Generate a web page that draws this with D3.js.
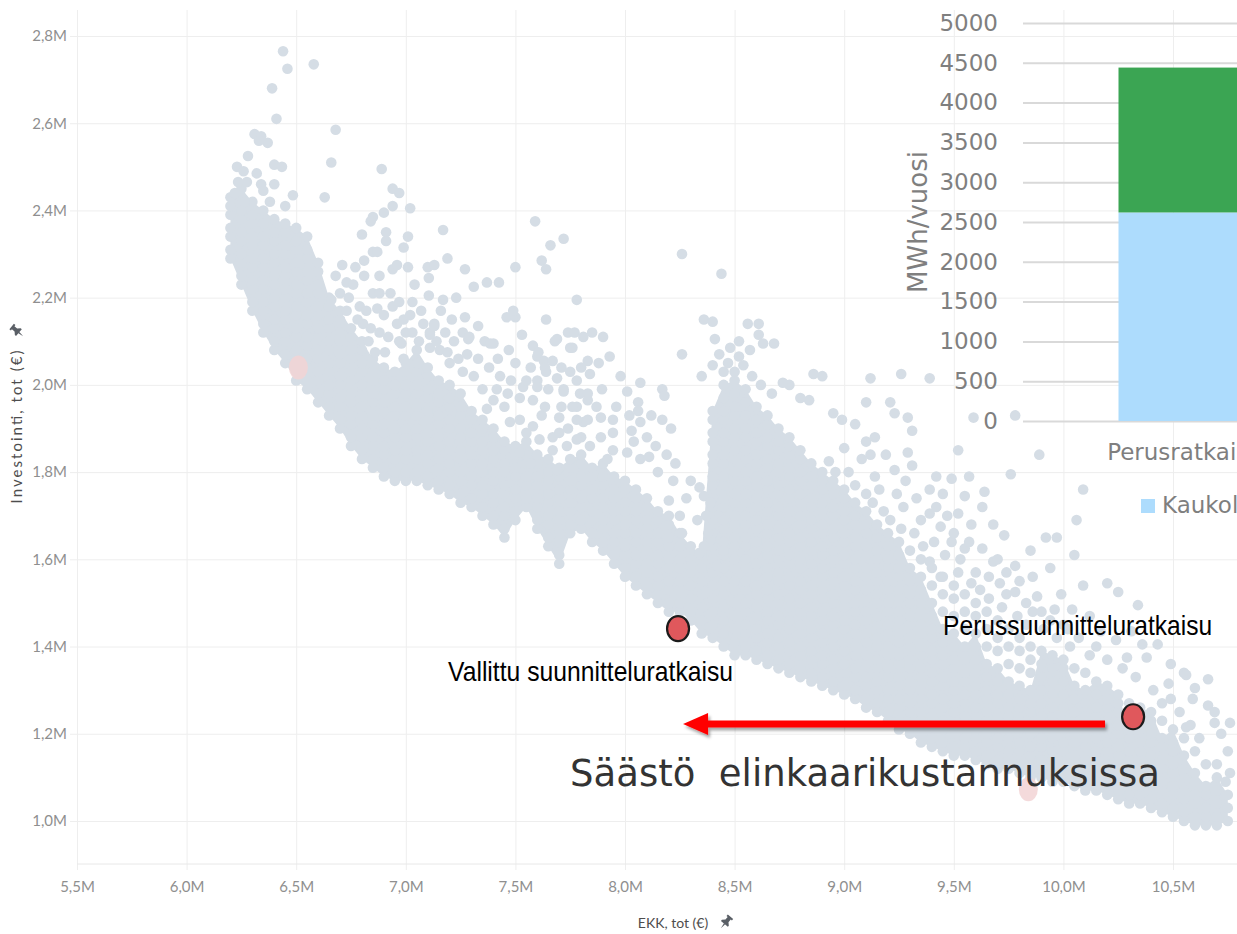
<!DOCTYPE html>
<html>
<head>
<meta charset="utf-8">
<script src="https://cdn.jsdelivr.net/npm/d3@7"></script>
<style>
body { margin: 0; background: #fff; }
svg { display: block; }
</style>
</head>
<body>
<div class="svg-container"></div>
<script>
// ticks (M€)
var ekkTicks = [5.5, 6.0, 6.5, 7.0, 7.5, 8.0, 8.5, 9.0, 9.5, 10.0, 10.5];
var invTicks = [1.0, 1.2, 1.4, 1.6, 1.8, 2.0, 2.2, 2.4, 2.6, 2.8];

// dense part of the cloud, read column by column: [EKK, [Investointi, ...]]
var cloudColumns = [
  [6.20,[2.29,2.31,2.34,2.36,2.39,2.41,2.43]],
  [6.25,[2.23,2.25,2.28,2.30,2.33,2.35,2.38,2.40,2.43,2.45]],
  [6.30,[2.17,2.19,2.22,2.24,2.27,2.29,2.32,2.34,2.37,2.39,2.42]],
  [6.35,[2.12,2.14,2.17,2.19,2.22,2.24,2.27,2.29,2.32,2.34,2.37,2.40]],
  [6.40,[2.08,2.10,2.13,2.15,2.18,2.20,2.23,2.25,2.28,2.30,2.33,2.35,2.38]],
  [6.45,[2.05,2.07,2.10,2.12,2.15,2.17,2.20,2.22,2.25,2.27,2.30,2.32,2.35,2.37]],
  [6.50,[2.01,2.03,2.06,2.08,2.11,2.13,2.16,2.18,2.21,2.23,2.26,2.28,2.31,2.33,2.36]],
  [6.55,[1.99,2.01,2.04,2.06,2.09,2.11,2.14,2.16,2.19,2.21,2.24,2.26,2.29,2.31,2.34]],
  [6.60,[1.96,1.98,2.01,2.03,2.06,2.08,2.11,2.13,2.16,2.18,2.21,2.23,2.26,2.28]],
  [6.65,[1.93,1.95,1.98,2.00,2.03,2.05,2.08,2.10,2.13,2.15,2.18,2.20]],
  [6.70,[1.90,1.92,1.95,1.97,2.00,2.02,2.05,2.07,2.10,2.12,2.15,2.17]],
  [6.75,[1.86,1.88,1.91,1.93,1.96,1.98,2.01,2.03,2.06,2.08,2.11,2.13]],
  [6.80,[1.83,1.85,1.88,1.90,1.93,1.95,1.98,2.00,2.03,2.05,2.08,2.10]],
  [6.85,[1.81,1.83,1.86,1.88,1.91,1.93,1.96,1.98,2.01,2.03,2.06]],
  [6.90,[1.79,1.81,1.84,1.86,1.89,1.91,1.94,1.96,1.99,2.01,2.04]],
  [6.95,[1.78,1.80,1.83,1.85,1.88,1.90,1.93,1.95,1.98,2.00,2.03]],
  [7.00,[1.78,1.80,1.83,1.85,1.88,1.90,1.93,1.95,1.98,2.00,2.03,2.05]],
  [7.05,[1.78,1.80,1.83,1.85,1.88,1.90,1.93,1.95,1.98,2.00,2.03,2.05,2.08]],
  [7.10,[1.77,1.79,1.82,1.84,1.87,1.89,1.92,1.94,1.97,1.99,2.02,2.04]],
  [7.15,[1.76,1.78,1.81,1.83,1.86,1.88,1.91,1.93,1.96,1.98,2.01]],
  [7.20,[1.75,1.77,1.80,1.82,1.85,1.87,1.90,1.92,1.95,1.97,2.00]],
  [7.25,[1.73,1.75,1.78,1.80,1.83,1.85,1.88,1.90,1.93,1.95,1.98]],
  [7.30,[1.72,1.74,1.77,1.79,1.82,1.84,1.87,1.89,1.92,1.94]],
  [7.35,[1.70,1.72,1.75,1.77,1.80,1.82,1.85,1.87,1.90,1.92]],
  [7.40,[1.68,1.70,1.73,1.75,1.78,1.80,1.83,1.85,1.88,1.90]],
  [7.45,[1.65,1.67,1.70,1.72,1.75,1.77,1.80,1.82,1.85,1.87]],
  [7.50,[1.69,1.71,1.74,1.76,1.79,1.81,1.84,1.86]],
  [7.55,[1.72,1.74,1.77,1.79,1.82,1.84,1.87]],
  [7.60,[1.67,1.69,1.72,1.74,1.77,1.79,1.82,1.84]],
  [7.65,[1.63,1.65,1.68,1.70,1.73,1.75,1.78,1.80,1.83]],
  [7.70,[1.59,1.61,1.64,1.66,1.69,1.71,1.74,1.76,1.79,1.81]],
  [7.75,[1.66,1.68,1.71,1.73,1.76,1.78,1.81,1.83]],
  [7.80,[1.67,1.69,1.72,1.74,1.77,1.79,1.82,1.84]],
  [7.85,[1.64,1.66,1.69,1.71,1.74,1.76,1.79,1.81]],
  [7.90,[1.62,1.64,1.67,1.69,1.72,1.74,1.77,1.79,1.82]],
  [7.95,[1.59,1.61,1.64,1.66,1.69,1.71,1.74,1.76,1.79]],
  [8.00,[1.56,1.58,1.61,1.63,1.66,1.68,1.71,1.73,1.76,1.78]],
  [8.05,[1.54,1.56,1.59,1.61,1.64,1.66,1.69,1.71,1.74,1.76]],
  [8.10,[1.52,1.54,1.57,1.59,1.62,1.64,1.67,1.69,1.72,1.74]],
  [8.15,[1.50,1.52,1.54,1.56,1.59,1.61,1.64,1.66,1.69,1.71]],
  [8.20,[1.48,1.50,1.53,1.55,1.58,1.60,1.63,1.65,1.68,1.70]],
  [8.25,[1.48,1.50,1.53,1.55,1.58,1.60,1.63,1.66]],
  [8.30,[1.46,1.48,1.51,1.54,1.57,1.60,1.63]],
  [8.35,[1.43,1.46,1.49,1.52,1.55,1.58,1.61]],
  [8.40,[1.42,1.45,1.48,1.51,1.54,1.57,1.60,1.63,1.66,1.69,1.72,1.74,1.77,1.79,1.82,1.84,1.87,1.89,1.92,1.94]],
  [8.45,[1.40,1.43,1.46,1.49,1.52,1.55,1.58,1.61,1.64,1.67,1.69,1.72,1.74,1.77,1.79,1.82,1.84,1.87,1.89,1.92,1.94,1.97,2.00]],
  [8.50,[1.38,1.41,1.44,1.47,1.50,1.53,1.55,1.58,1.60,1.63,1.65,1.68,1.70,1.73,1.75,1.78,1.80,1.83,1.85,1.88,1.90,1.93,1.95,1.98,2.01]],
  [8.55,[1.38,1.40,1.43,1.45,1.48,1.50,1.53,1.55,1.58,1.60,1.63,1.65,1.68,1.70,1.73,1.75,1.78,1.80,1.83,1.85,1.88,1.90,1.93,1.96,1.99]],
  [8.60,[1.37,1.39,1.42,1.44,1.47,1.49,1.52,1.54,1.57,1.59,1.62,1.64,1.67,1.69,1.72,1.74,1.77,1.79,1.82,1.84,1.87,1.89,1.92,1.95]],
  [8.65,[1.36,1.38,1.41,1.43,1.46,1.48,1.51,1.53,1.56,1.58,1.61,1.63,1.66,1.68,1.71,1.73,1.76,1.78,1.81,1.83,1.86,1.88,1.91,1.93]],
  [8.70,[1.35,1.37,1.40,1.42,1.45,1.47,1.50,1.52,1.55,1.57,1.60,1.62,1.65,1.67,1.70,1.72,1.75,1.77,1.80,1.82,1.85,1.87,1.90]],
  [8.75,[1.34,1.36,1.39,1.41,1.44,1.46,1.49,1.51,1.54,1.56,1.59,1.61,1.64,1.66,1.69,1.71,1.74,1.76,1.79,1.81,1.84,1.86,1.88]],
  [8.80,[1.33,1.35,1.38,1.40,1.43,1.45,1.48,1.50,1.53,1.55,1.58,1.60,1.63,1.65,1.68,1.70,1.73,1.75,1.78,1.80,1.83,1.85]],
  [8.85,[1.32,1.34,1.37,1.39,1.42,1.44,1.47,1.49,1.52,1.54,1.57,1.59,1.62,1.64,1.67,1.69,1.72,1.74,1.77,1.79,1.82]],
  [8.90,[1.31,1.33,1.36,1.38,1.41,1.43,1.46,1.48,1.51,1.53,1.56,1.58,1.61,1.63,1.66,1.68,1.71,1.73,1.76,1.78,1.80]],
  [8.95,[1.30,1.32,1.35,1.37,1.40,1.42,1.45,1.47,1.50,1.52,1.55,1.57,1.60,1.62,1.65,1.67,1.70,1.72,1.75,1.78]],
  [9.00,[1.29,1.31,1.34,1.36,1.39,1.41,1.44,1.46,1.49,1.51,1.54,1.56,1.59,1.61,1.64,1.66,1.69,1.71,1.74,1.76]],
  [9.05,[1.28,1.30,1.33,1.35,1.38,1.40,1.43,1.45,1.48,1.50,1.53,1.55,1.58,1.60,1.63,1.65,1.68,1.70,1.73]],
  [9.10,[1.26,1.28,1.31,1.33,1.36,1.38,1.41,1.43,1.46,1.48,1.51,1.53,1.56,1.58,1.61,1.63,1.66,1.68,1.71]],
  [9.15,[1.25,1.27,1.30,1.32,1.35,1.37,1.40,1.42,1.45,1.47,1.50,1.52,1.55,1.57,1.60,1.62,1.65,1.68]],
  [9.20,[1.23,1.25,1.28,1.30,1.33,1.35,1.38,1.40,1.43,1.45,1.48,1.50,1.53,1.55,1.58,1.60,1.63,1.66]],
  [9.25,[1.21,1.23,1.26,1.28,1.31,1.33,1.36,1.38,1.41,1.43,1.46,1.48,1.51,1.53,1.56,1.58,1.61,1.64]],
  [9.30,[1.20,1.22,1.25,1.27,1.30,1.32,1.35,1.37,1.40,1.42,1.45,1.47,1.50,1.52,1.55,1.58,1.62]],
  [9.35,[1.18,1.20,1.23,1.25,1.28,1.30,1.33,1.35,1.38,1.40,1.43,1.45,1.48,1.50,1.53,1.56,1.60]],
  [9.40,[1.17,1.19,1.22,1.24,1.27,1.29,1.32,1.34,1.37,1.39,1.42,1.44,1.47,1.50,1.54,1.58]],
  [9.45,[1.16,1.18,1.21,1.23,1.26,1.28,1.31,1.33,1.36,1.38,1.41,1.44,1.48,1.52,1.56]],
  [9.50,[1.15,1.17,1.20,1.22,1.25,1.27,1.30,1.32,1.35,1.37,1.40,1.43,1.47,1.51,1.54]],
  [9.55,[1.15,1.17,1.19,1.22,1.24,1.27,1.29,1.32,1.34,1.37,1.40,1.44,1.48,1.52]],
  [9.60,[1.14,1.16,1.19,1.21,1.24,1.26,1.29,1.31,1.34,1.37,1.40,1.43,1.47,1.50]],
  [9.65,[1.13,1.15,1.18,1.20,1.23,1.25,1.28,1.30,1.33,1.36,1.40,1.44,1.48]],
  [9.70,[1.12,1.14,1.17,1.19,1.22,1.24,1.27,1.29,1.32,1.35,1.39,1.42,1.46]],
  [9.75,[1.12,1.14,1.16,1.19,1.21,1.24,1.26,1.29,1.32,1.36,1.40,1.44]],
  [9.80,[1.11,1.13,1.16,1.18,1.21,1.23,1.26,1.28,1.31,1.35,1.39,1.42]],
  [9.85,[1.10,1.12,1.15,1.17,1.20,1.22,1.25,1.27,1.30,1.34,1.37,1.40]],
  [9.90,[1.10,1.12,1.14,1.17,1.19,1.22,1.24,1.27,1.30,1.33,1.36,1.39]],
  [9.95,[1.09,1.11,1.14,1.16,1.19,1.21,1.24,1.26,1.29,1.32,1.35,1.38]],
  [10.00,[1.09,1.11,1.13,1.16,1.18,1.21,1.23,1.26,1.29,1.32,1.35,1.37]],
  [10.05,[1.08,1.10,1.13,1.15,1.18,1.20,1.23,1.25,1.28,1.31,1.35]],
  [10.10,[1.07,1.09,1.12,1.14,1.17,1.19,1.22,1.24,1.27,1.30,1.34]],
  [10.15,[1.07,1.09,1.11,1.14,1.16,1.19,1.21,1.24,1.26,1.29,1.32]],
  [10.20,[1.06,1.08,1.11,1.13,1.16,1.18,1.21,1.23,1.26,1.28,1.31]],
  [10.25,[1.05,1.07,1.10,1.12,1.15,1.17,1.20,1.22,1.25,1.27,1.29]],
  [10.30,[1.04,1.06,1.09,1.11,1.14,1.16,1.19,1.21,1.27]],
  [10.35,[1.04,1.06,1.08,1.11,1.13,1.16,1.18,1.21,1.23,1.26]],
  [10.40,[1.03,1.05,1.08,1.10,1.13,1.15,1.18,1.20,1.23,1.25]],
  [10.45,[1.02,1.04,1.07,1.09,1.12,1.14,1.17,1.19,1.23]],
  [10.50,[1.01,1.03,1.06,1.08,1.11,1.13,1.16,1.18,1.21]],
  [10.55,[1.00,1.02,1.05,1.07,1.10,1.12,1.15,1.19]],
  [10.60,[0.99,1.01,1.04,1.06,1.09,1.11,1.16]],
  [10.65,[0.99,1.01,1.03,1.06,1.08,1.13]],
  [10.70,[0.99,1.01,1.04,1.07,1.10]],
  [10.75,[1.00,1.03,1.06]]
];

// scattered points around the dense bands: [EKK, Investointi]
var cloudPoints = [
  [6.44,2.765],[6.46,2.725],[6.58,2.735],[6.39,2.68],[6.41,2.61],[6.68,2.585],[6.66,2.51],[6.63,2.43],[6.485,2.435],
  [6.31,2.575],[6.34,2.57],[6.37,2.555],[6.33,2.56],[6.28,2.525],[6.23,2.50],[6.26,2.49],[6.32,2.485],[6.235,2.465],
  [6.275,2.465],[6.34,2.46],[6.40,2.505],[6.435,2.50],[6.40,2.46],[6.35,2.445],[6.265,2.42],[6.38,2.42],[6.45,2.41],[6.22,2.44],
  [6.89,2.495],[6.94,2.45],[6.97,2.44],[6.94,2.41],[7.02,2.405],[6.90,2.395],[6.85,2.385],[6.84,2.375],[6.80,2.345],
  [6.91,2.35],[6.91,2.33],[7.01,2.34],[6.99,2.315],[7.17,2.355],[7.19,2.29],[6.85,2.305],[6.87,2.305],[6.81,2.285],
  [6.77,2.27],[6.71,2.275],[6.81,2.25],[6.88,2.25],[6.94,2.265],[6.96,2.275],[7.01,2.27],[7.10,2.27],[7.13,2.275],
  [7.105,2.245],[7.105,2.205],[7.27,2.265],[7.31,2.225],[7.37,2.235],[7.425,2.235],[7.50,2.27],[7.59,2.375],[7.66,2.32],
  [7.72,2.335],[7.62,2.285],[7.64,2.265],[7.17,2.195],[7.78,2.195],
  [6.73,2.235],[6.73,2.17],[6.66,2.195],[6.805,2.14],[6.83,2.10],[6.86,2.075],[6.905,2.075],[6.85,2.21],[6.87,2.175],
  [6.88,2.21],[6.94,2.18],[6.96,2.14],[6.99,2.15],[7.03,2.19],[6.98,2.095],[7.03,2.12],[7.11,2.12],[7.13,2.14],
  [7.11,2.085],[7.155,2.08],[7.19,2.075],[6.99,2.06],[7.055,2.05],
  [6.68,2.25],[6.70,2.21],[6.74,2.20],[6.76,2.23],[6.79,2.18],[6.78,2.15],[6.82,2.17],[6.84,2.13],[6.88,2.12],
  [6.90,2.16],[6.92,2.11],[6.93,2.21],[6.97,2.10],[6.97,2.19],[7.00,2.12],[7.02,2.16],[7.04,2.23],[7.06,2.10],
  [7.07,2.17],[7.08,2.14],[7.14,2.10],[7.16,2.17],[7.18,2.12],[7.20,2.05],[7.22,2.10],[7.23,2.20],[7.24,2.06],[7.21,2.15],
  [7.27,2.155],[7.26,2.12],[7.33,2.135],[7.285,2.105],[7.36,2.10],[7.40,2.095],[7.46,2.155],[7.50,2.155],[7.49,2.17],
  [7.53,2.115],[7.64,2.15],[7.69,2.105],[7.74,2.12],[7.77,2.12],[7.81,2.11],[7.85,2.12],[7.75,2.085],[7.83,2.055],
  [7.80,2.04],[7.50,2.05],[7.57,2.04],[7.60,2.065],[7.63,2.055],[7.67,2.055],[7.71,2.04],[7.64,2.03],[7.69,2.015],
  [7.60,2.01],[7.535,1.995],[7.465,1.98],[7.415,1.99],[7.40,1.965],[7.58,1.965],[7.60,1.995],[7.72,1.985],[7.83,1.98],
  [7.78,1.95],[7.81,1.915],[7.37,1.945],[7.475,1.915],[7.52,1.92],[7.58,1.905],[7.61,1.875],[7.67,1.88],[7.735,1.86],
  [7.52,1.845],[7.57,1.82],[7.69,1.805],[7.40,1.88],
  [7.26,2.03],[7.28,2.07],[7.31,2.02],[7.33,2.06],[7.35,1.99],[7.38,2.04],[7.42,2.06],[7.43,2.02],[7.45,1.95],
  [7.47,2.08],[7.48,2.01],[7.52,1.97],[7.55,2.01],[7.55,1.89],[7.58,2.09],[7.62,1.93],[7.65,1.99],[7.67,1.85],
  [7.71,1.95],[7.74,1.90],[7.75,2.03],[7.80,1.88],[7.87,1.95],[7.88,2.05],[7.92,1.83],[7.96,1.95],[7.98,2.02],
  [8.02,1.93],[8.04,1.87],[8.12,1.93],[8.14,1.86],[8.19,1.84],[8.21,1.90],
  [7.90,2.11],[7.68,2.10],[7.76,2.085],[7.93,2.065],[7.385,2.095],[7.29,2.11],[7.13,2.135],[7.11,2.115],[7.605,2.075],
  [7.635,2.04],[7.72,1.99],[7.78,2.01],[7.84,2.025],[7.795,1.98],[7.83,1.965],[7.895,1.99],[7.76,1.95],[7.78,1.92],
  [7.83,1.92],[7.89,1.925],[7.70,1.925],[7.635,1.95],[7.70,1.89],[7.78,1.875],[7.84,1.86],[7.89,1.88],[7.945,1.89],
  [7.945,1.85],[8.01,1.845],[8.07,1.83],[8.11,1.835],[8.15,1.80],
  [8.01,1.985],[8.07,2.005],[8.17,1.99],[8.18,1.975],[8.06,1.96],[8.06,1.94],[8.17,1.92],[7.945,1.92],[8.03,1.895],
  [8.07,1.915],[8.10,1.88],[8.22,1.78],[8.20,1.735],[8.26,1.66],[8.33,1.69],[8.36,1.745],[8.39,1.645],[8.34,1.615],
  [8.42,1.585],[8.45,1.62],[8.26,2.30],[8.44,2.255],[8.36,2.15],[8.26,2.07],[8.35,2.02],[8.34,1.765],[8.30,1.585],
  [8.37,1.525],[8.25,1.70],[8.28,1.74],[8.30,1.78],[8.23,1.82],[8.38,1.66],[8.37,1.70],[8.39,1.73],[8.36,1.63],
  [8.40,2.145],[8.61,2.14],[8.61,2.115],[8.68,2.095],[8.41,2.105],[8.48,2.085],[8.40,2.045],[8.45,2.03],[8.54,2.045],
  [8.75,2.00],[8.84,1.965],[8.90,2.02],[9.12,2.015],[9.26,2.025],[9.21,1.96],[9.05,1.91],[9.10,1.87],[9.14,1.88],
  [9.31,1.895],[9.29,1.845],[9.00,1.855],[8.93,1.825],[8.96,1.80],[9.23,1.805],[9.14,1.79],[9.42,1.79],[9.57,1.79],
  [9.76,1.795],[9.64,1.755],[10.09,1.76],[10.06,1.69],[9.92,1.65],[9.97,1.65],[9.85,1.62],[10.05,1.61],[9.78,1.585],
  [9.94,1.58],[9.86,1.56],[9.99,1.52],[10.09,1.54],[10.20,1.545],[10.25,1.525],[10.34,1.495],[10.29,1.375],[10.38,1.375],
  [10.55,1.34],[10.60,1.305],[10.48,1.315],[10.69,1.225],[10.74,1.09],
  [8.52,2.065],[8.56,2.14],[8.63,2.095],[8.72,2.005],[8.80,1.97],[8.86,2.025],[9.39,2.015],[9.78,1.93],[9.59,1.925],
  [9.52,1.85],[9.89,1.84],
  [8.95,1.935],[8.99,1.92],[9.10,1.96],[9.23,1.935],[9.29,1.925],[9.12,1.84],[9.31,1.815],[9.39,1.76],[9.45,1.75],
  [9.49,1.785],[9.55,1.745],[9.39,1.705],[9.44,1.675],[9.52,1.705],[9.58,1.68],[9.63,1.72],[9.68,1.68],[9.73,1.655],
  [9.49,1.64],[9.55,1.625],[9.63,1.625],[9.68,1.595],[9.39,1.595],[9.44,1.56],[9.52,1.57],[9.58,1.545],[9.71,1.545],
  [9.78,1.525],[9.88,1.515],[9.96,1.485],[10.04,1.485],[10.12,1.47],[10.17,1.435],[10.24,1.415],[10.31,1.435],
  [10.36,1.405],[10.43,1.405],[10.49,1.36],[10.56,1.335],[10.66,1.325],[10.59,1.28],[10.66,1.265],[10.69,1.25],
  [10.76,1.225],[10.49,1.28],[10.53,1.25],[10.56,1.215],
  [10.72,1.20],[10.75,1.16],[10.70,1.13],[10.76,1.11],[10.62,1.19],[10.58,1.22],
  [9.66,1.51],[9.72,1.49],[9.79,1.47],[9.83,1.45],[9.91,1.44],[9.97,1.42],[10.03,1.40],[10.12,1.38],[9.74,1.52],
  [9.86,1.48],[10.00,1.45],
  [8.43,2.07],[8.47,2.05],[8.50,2.03],[8.58,2.02],[8.62,2.00],[8.67,1.98],[8.57,2.08],[8.52,2.10],
  [9.02,1.80],[9.05,1.77],[9.08,1.83],[9.10,1.75],[9.13,1.73],[9.16,1.76],[9.18,1.71],[9.19,1.84],[9.21,1.69],
  [9.24,1.75],[9.26,1.67],[9.27,1.72],[9.28,1.78],[9.32,1.66],[9.33,1.74],[9.35,1.69],[9.36,1.63],[9.41,1.64],
  [9.42,1.72],[9.46,1.61],[9.47,1.70],[9.50,1.66],[9.53,1.60],[9.57,1.64],[9.60,1.57],[9.62,1.53],[9.66,1.56],
  [9.70,1.60],[9.74,1.57],[9.80,1.55],[9.83,1.50],[9.90,1.48],[9.94,1.46],[10.02,1.44],[10.07,1.42],[10.15,1.40],
  [10.20,1.37],[10.27,1.35],[10.33,1.33],[10.41,1.30],[10.45,1.27]
];

// faded (filtered-out) highlight marks
var ghostPoints = [[6.51, 2.04], [9.84, 1.073]];

// chosen solutions
var highlightNames = ["Vallittu suunnitteluratkaisu", "Perussuunnitteluratkaisu"];
var highlightEkk = [8.242, 10.318];
var highlightInv = [1.441, 1.239];

// saving arrow (EKK from -> to, at Investointi level)
var arrowEkk = [10.19, 8.265];
var arrowInv = 1.2225;
var savingText = "Säästö  elinkaarikustannuksissa";

// inset bar chart (MWh/vuosi)
var barCategories = ["Perusratkaisu"];
var barSeries = ["Kaukolämpö", "Sähkö"];
var barValues = [2620, 1820];
var barTicks = [0, 500, 1000, 1500, 2000, 2500, 3000, 3500, 4000, 4500, 5000];
var barColors = ["#addcfd", "#3ba553"];

var W = 1237, H = 934;
var plotTop = 10, plotBottom = 864, plotLeft = 77;
var dotColor = "#d5dde5";

var x = d3.scaleLinear().domain([5.5, 10.5]).range([77, 1173]);
var y = d3.scaleLinear().domain([1.0, 2.8]).range([821, 36]);

function fmtM(d) { return d3.format(".1f")(d).replace(".", ",") + "M"; }

var svg = d3.select(".svg-container").append("svg")
  .attr("width", W)
  .attr("height", H);

var defs = svg.append("defs");
defs.append("filter").attr("id", "shadow").attr("x", "-10%").attr("y", "-50%").attr("width", "120%").attr("height", "200%")
  .append("feDropShadow").attr("dx", 2).attr("dy", 3).attr("stdDeviation", 1.8)
  .attr("flood-color", "#000").attr("flood-opacity", 0.35);

// grid
var gx = svg.append("g").attr("transform", "translate(0,870)")
  .call(d3.axisBottom(x).tickValues(ekkTicks).tickSize(-(870 - plotTop)).tickFormat(""));
gx.select(".domain").remove();
gx.selectAll("line").attr("stroke", "#eeeeee");

var gy = svg.append("g").attr("transform", "translate(70,0)")
  .call(d3.axisLeft(y).tickValues(invTicks).tickSize(-(W - 70)).tickFormat(""));
gy.select(".domain").remove();
gy.selectAll("line").attr("stroke", "#eeeeee");

svg.append("line").attr("x1", plotLeft).attr("x2", W).attr("y1", plotBottom).attr("y2", plotBottom)
  .attr("stroke", "#e8e8e8");

// tick labels
var xl = svg.append("g").attr("transform", "translate(0,887)")
  .call(d3.axisBottom(x).tickValues(ekkTicks).tickSize(0).tickPadding(0).tickFormat(fmtM));
xl.select(".domain").remove();
xl.selectAll("text").attr("y", 0).attr("dy", "0.35em")
  .style("font-family", "Lato, 'Noto Sans', sans-serif").style("font-size", "15px").attr("fill", "#8f8f8f");

var yl = svg.append("g").attr("transform", "translate(77,0)")
  .call(d3.axisLeft(y).tickValues(invTicks).tickSize(0).tickPadding(10).tickFormat(fmtM));
yl.select(".domain").remove();
yl.selectAll("text")
  .style("font-family", "Lato, 'Noto Sans', sans-serif").style("font-size", "15px").attr("fill", "#8f8f8f");

// axis titles with pin
function pin(g, px, py, rot) {
  g.append("path")
    .attr("transform", "translate(" + px + "," + py + ") rotate(" + rot + ")")
    .attr("d", "M-3.5,-7 h7 v2 h-1.5 v3.5 l2.5,2.5 v1.5 h-9 v-1.5 l2.5,-2.5 v-3.5 h-1.5 z M-0.8,2.5 h1.6 l-0.8,5.5 z")
    .attr("fill", "#5a5f66");
}
svg.append("text").attr("x", 673).attr("y", 928).attr("text-anchor", "middle")
  .style("font-family", "Lato, sans-serif").style("font-size", "14px").attr("fill", "#4d4d4d")
  .text("EKK, tot (€)");
pin(svg, 726, 922, 40);
svg.append("text").attr("transform", "translate(22,427) rotate(-90)").attr("text-anchor", "middle")
  .attr("textLength", 153).attr("lengthAdjust", "spacing")
  .style("font-family", "Lato, sans-serif").style("font-size", "15px").attr("fill", "#4d4d4d")
  .text("Investointi, tot (€)");
pin(svg, 17, 331, -50);

// cloud: the tightly packed run of each column is shaded as one body, every point drawn on top
var coreRuns = cloudColumns.map(function(c) {
  var v = c[1].slice().sort(d3.ascending), top = v[0];
  for (var i = 1; i < v.length && v[i] - v[i - 1] <= 0.031; i++) top = v[i];
  return [c[0], v[0], top];
});
svg.append("path")
  .datum(coreRuns)
  .attr("d", d3.area()
    .x(function(d) { return x(d[0]); })
    .y0(function(d) { return y(d[1]); })
    .y1(function(d) { return y(d[2]); }))
  .attr("fill", dotColor);

var cloud = [];
cloudColumns.forEach(function(c) { c[1].forEach(function(v) { cloud.push([c[0], v]); }); });
cloud = cloud.concat(cloudPoints);

svg.append("g").selectAll("circle").data(cloud).enter().append("circle")
  .attr("cx", function(d) { return x(d[0]); })
  .attr("cy", function(d) { return y(d[1]); })
  .attr("r", 5.3)
  .attr("fill", dotColor);

// inset bar chart (drawn over the cloud)
var yb = d3.scaleLinear().domain([0, 5000]).range([421, 23]);
var xb = d3.scaleBand().domain(barCategories).range([1052, 1318]).paddingInner(0.5).paddingOuter(0.25);

var gb = svg.append("g").attr("transform", "translate(1023,0)")
  .call(d3.axisLeft(yb).tickValues(barTicks).tickSize(-(W - 1023)).tickPadding(25).tickFormat(d3.format("d")));
gb.select(".domain").remove();
gb.selectAll("line").attr("stroke", "#d9d9d9").attr("stroke-width", 2);
gb.selectAll("text").style("font-family", "'DejaVu Sans', Verdana, sans-serif").style("font-size", "23px").attr("fill", "#7f7f7f");

var barRow = { cat: barCategories[0] };
barSeries.forEach(function(s, i) { barRow[s] = barValues[i]; });
var stacked = d3.stack().keys(barSeries)([barRow]);
svg.append("g").selectAll("rect").data(stacked).enter().append("rect")
  .attr("x", function(s) { return xb(s[0].data.cat); })
  .attr("width", xb.bandwidth())
  .attr("y", function(s) { return yb(s[0][1]); })
  .attr("height", function(s) { return yb(s[0][0]) - yb(s[0][1]); })
  .attr("fill", function(s, i) { return barColors[i]; });

svg.append("g").selectAll("text").data(barCategories).enter().append("text")
  .attr("x", function(d) { return xb(d) + xb.bandwidth() / 2; })
  .attr("y", 460).attr("text-anchor", "middle")
  .style("font-family", "'DejaVu Sans', Verdana, sans-serif").style("font-size", "23px").attr("fill", "#7f7f7f")
  .text(function(d) { return d; });

svg.append("text").attr("transform", "translate(927,222) rotate(-90)").attr("text-anchor", "middle")
  .style("font-family", "'DejaVu Sans', Verdana, sans-serif").style("font-size", "26px").attr("fill", "#7f7f7f")
  .text("MWh/vuosi");

var legend = svg.append("g").selectAll("g").data(barSeries).enter().append("g")
  .attr("transform", function(d, i) { return "translate(" + (1141 + i * 170) + ",499)"; });
legend.append("rect").attr("width", 14).attr("height", 14).attr("fill", function(d, i) { return barColors[i]; });
legend.append("text").attr("x", 21).attr("y", 14)
  .style("font-family", "'DejaVu Sans', Verdana, sans-serif").style("font-size", "23px").attr("fill", "#7f7f7f")
  .text(function(d) { return d; });

// faded marks
svg.append("g").selectAll("ellipse").data(ghostPoints).enter().append("ellipse")
  .attr("cx", function(d) { return x(d[0]); })
  .attr("cy", function(d) { return y(d[1]); })
  .attr("rx", 9.5).attr("ry", 12)
  .attr("fill", "#f2d3d5").attr("opacity", 0.85);

// saving arrow
var ax0 = x(arrowEkk[0]), ax1 = x(arrowEkk[1]), ay = y(arrowInv);
var arrow = svg.append("g").attr("filter", "url(#shadow)");
arrow.append("line").attr("x1", ax0).attr("x2", ax1 + 20).attr("y1", ay).attr("y2", ay)
  .attr("stroke", "#ff0000").attr("stroke-width", 7);
arrow.append("path")
  .attr("d", "M" + ax1 + "," + ay + " L" + (ax1 + 25) + "," + (ay - 11) + " L" + (ax1 + 25) + "," + (ay + 11) + " Z")
  .attr("fill", "#ff0000");

// chosen solutions
svg.append("g").selectAll("ellipse").data(highlightNames).enter().append("ellipse")
  .attr("cx", function(d, i) { return x(highlightEkk[i]); })
  .attr("cy", function(d, i) { return y(highlightInv[i]); })
  .attr("rx", 11).attr("ry", 12.5)
  .attr("fill", "#e0585c").attr("stroke", "#1b1b1b").attr("stroke-width", 2.2);

var labelDx = [-230, -190], labelDy = [52, -82], labelLen = [285, 269];
svg.append("g").selectAll("text").data(highlightNames).enter().append("text")
  .attr("x", function(d, i) { return x(highlightEkk[i]) + labelDx[i]; })
  .attr("y", function(d, i) { return y(highlightInv[i]) + labelDy[i]; })
  .attr("textLength", function(d, i) { return labelLen[i]; })
  .attr("lengthAdjust", "spacingAndGlyphs")
  .style("font-family", "'Liberation Sans', Arial, sans-serif").style("font-size", "28px").attr("fill", "#000")
  .text(function(d) { return d; });

svg.append("text")
  .attr("x", ax1 - 113).attr("y", ay + 62)
  .style("white-space", "pre")
  .style("font-family", "'DejaVu Sans', Verdana, sans-serif").style("font-size", "37px").attr("fill", "#333")
  .text(savingText);
</script>
</body>
</html>
